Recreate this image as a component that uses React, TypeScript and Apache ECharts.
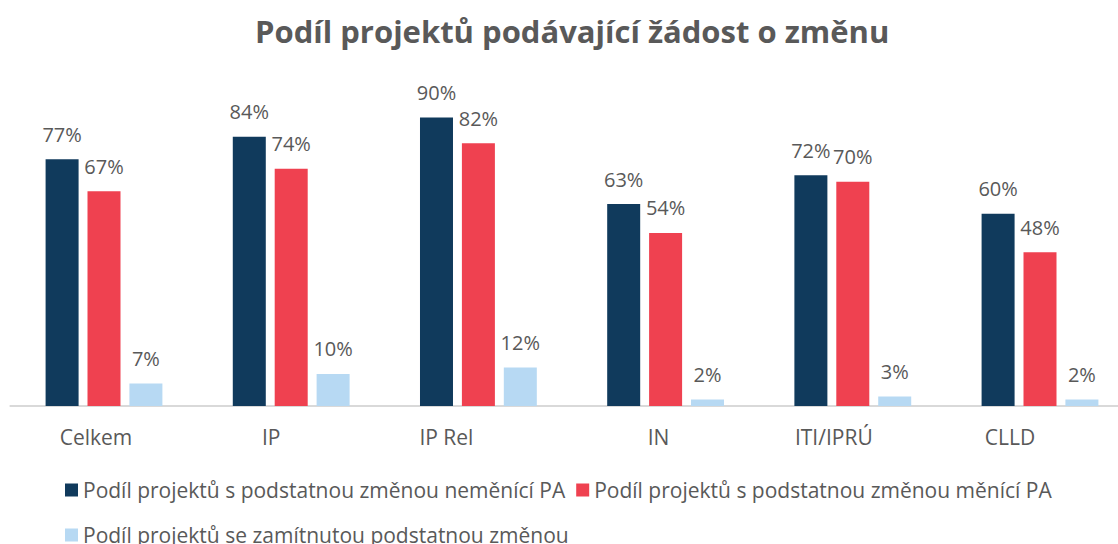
import React, { useEffect, useRef } from "react";
import * as echarts from "echarts";

const categories = ["Celkem", "IP", "IP Rel", "IN", "ITI/IPRÚ", "CLLD"];
const seriesNames = [
  "Podíl projektů s podstatnou změnou neměnící PA",
  "Podíl projektů s podstatnou změnou měnící PA",
  "Podíl projektů se zamítnutou podstatnou změnou",
];
const nonChanging = [77, 84, 90, 63, 72, 60];
const changing = [67, 74, 82, 54, 70, 48];
const rejected = [7, 10, 12, 2, 3, 2];
const labelShift = [16, 40, 64, 14, 38, 60];

const colors = ["#103a5c", "#ef4150", "#b7d9f3"];
const FONT = "Open Sans";
const GRAY = "#595959";

export default function App() {
  const ref = useRef<HTMLDivElement>(null);
  useEffect(() => {
    if (!ref.current) return;
    const chart = echarts.init(ref.current, null, { renderer: "svg" });
    const mk = (name: string, data: number[], color: string) => ({
      name,
      type: "bar",
      data,
      barWidth: 33,
      barGap: "27%",
      itemStyle: { color },
      label: {
        show: true,
        position: "top",
        distance: 15,
        formatter: (p: any) => p.value + "%",
        color: GRAY,
        fontFamily: FONT,
        fontSize: 20,
      },
    });
    chart.setOption({
      animation: false,
      backgroundColor: "#ffffff",
      title: {
        text: "Podíl projektů podávající žádost o změnu",
        left: 250,
        top: 10,
        textStyle: { fontFamily: FONT, fontSize: 31, fontWeight: "bold", color: GRAY },
      },
      legend: [
        {
          data: seriesNames.slice(0, 2),
          left: 60,
          top: 474,
          itemWidth: 13,
          itemHeight: 13,
          itemGap: 11,
          icon: "rect",
          textStyle: { fontFamily: FONT, fontSize: 21, color: GRAY, lineHeight: 22 },
        },
        {
          data: seriesNames.slice(2),
          left: 60,
          top: 519,
          itemWidth: 13,
          itemHeight: 13,
          icon: "rect",
          textStyle: { fontFamily: FONT, fontSize: 21, color: GRAY, lineHeight: 22 },
        },
      ],
      grid: { left: 10.4, width: 1123.2, top: 85.5, height: 320.5, containLabel: false },
      xAxis: {
        type: "category",
        data: categories.map((c, i) => ({ value: c, textStyle: { padding: [0, labelShift[i], 0, 0] } })),
        axisLine: { lineStyle: { color: "#d9d9d9", width: 2 } },
        axisTick: { show: false },
        axisLabel: { color: GRAY, fontFamily: FONT, fontSize: 21, margin: 20 },
      },
      yAxis: {
        type: "value",
        min: 0,
        max: 100,
        show: false,
        splitLine: { show: false },
      },
      series: [
        mk(seriesNames[0], nonChanging, colors[0]),
        mk(seriesNames[1], changing, colors[1]),
        mk(seriesNames[2], rejected, colors[2]),
      ],
    });
    return () => chart.dispose();
  }, []);
  return (
    <div style={{ position: "fixed", left: 0, top: 0, width: 1118, height: 544, overflow: "hidden", background: "#fff" }}>
      <div ref={ref} style={{ position: "absolute", left: 0, top: 0, width: 1160, height: 544 }} />
    </div>
  );
}
